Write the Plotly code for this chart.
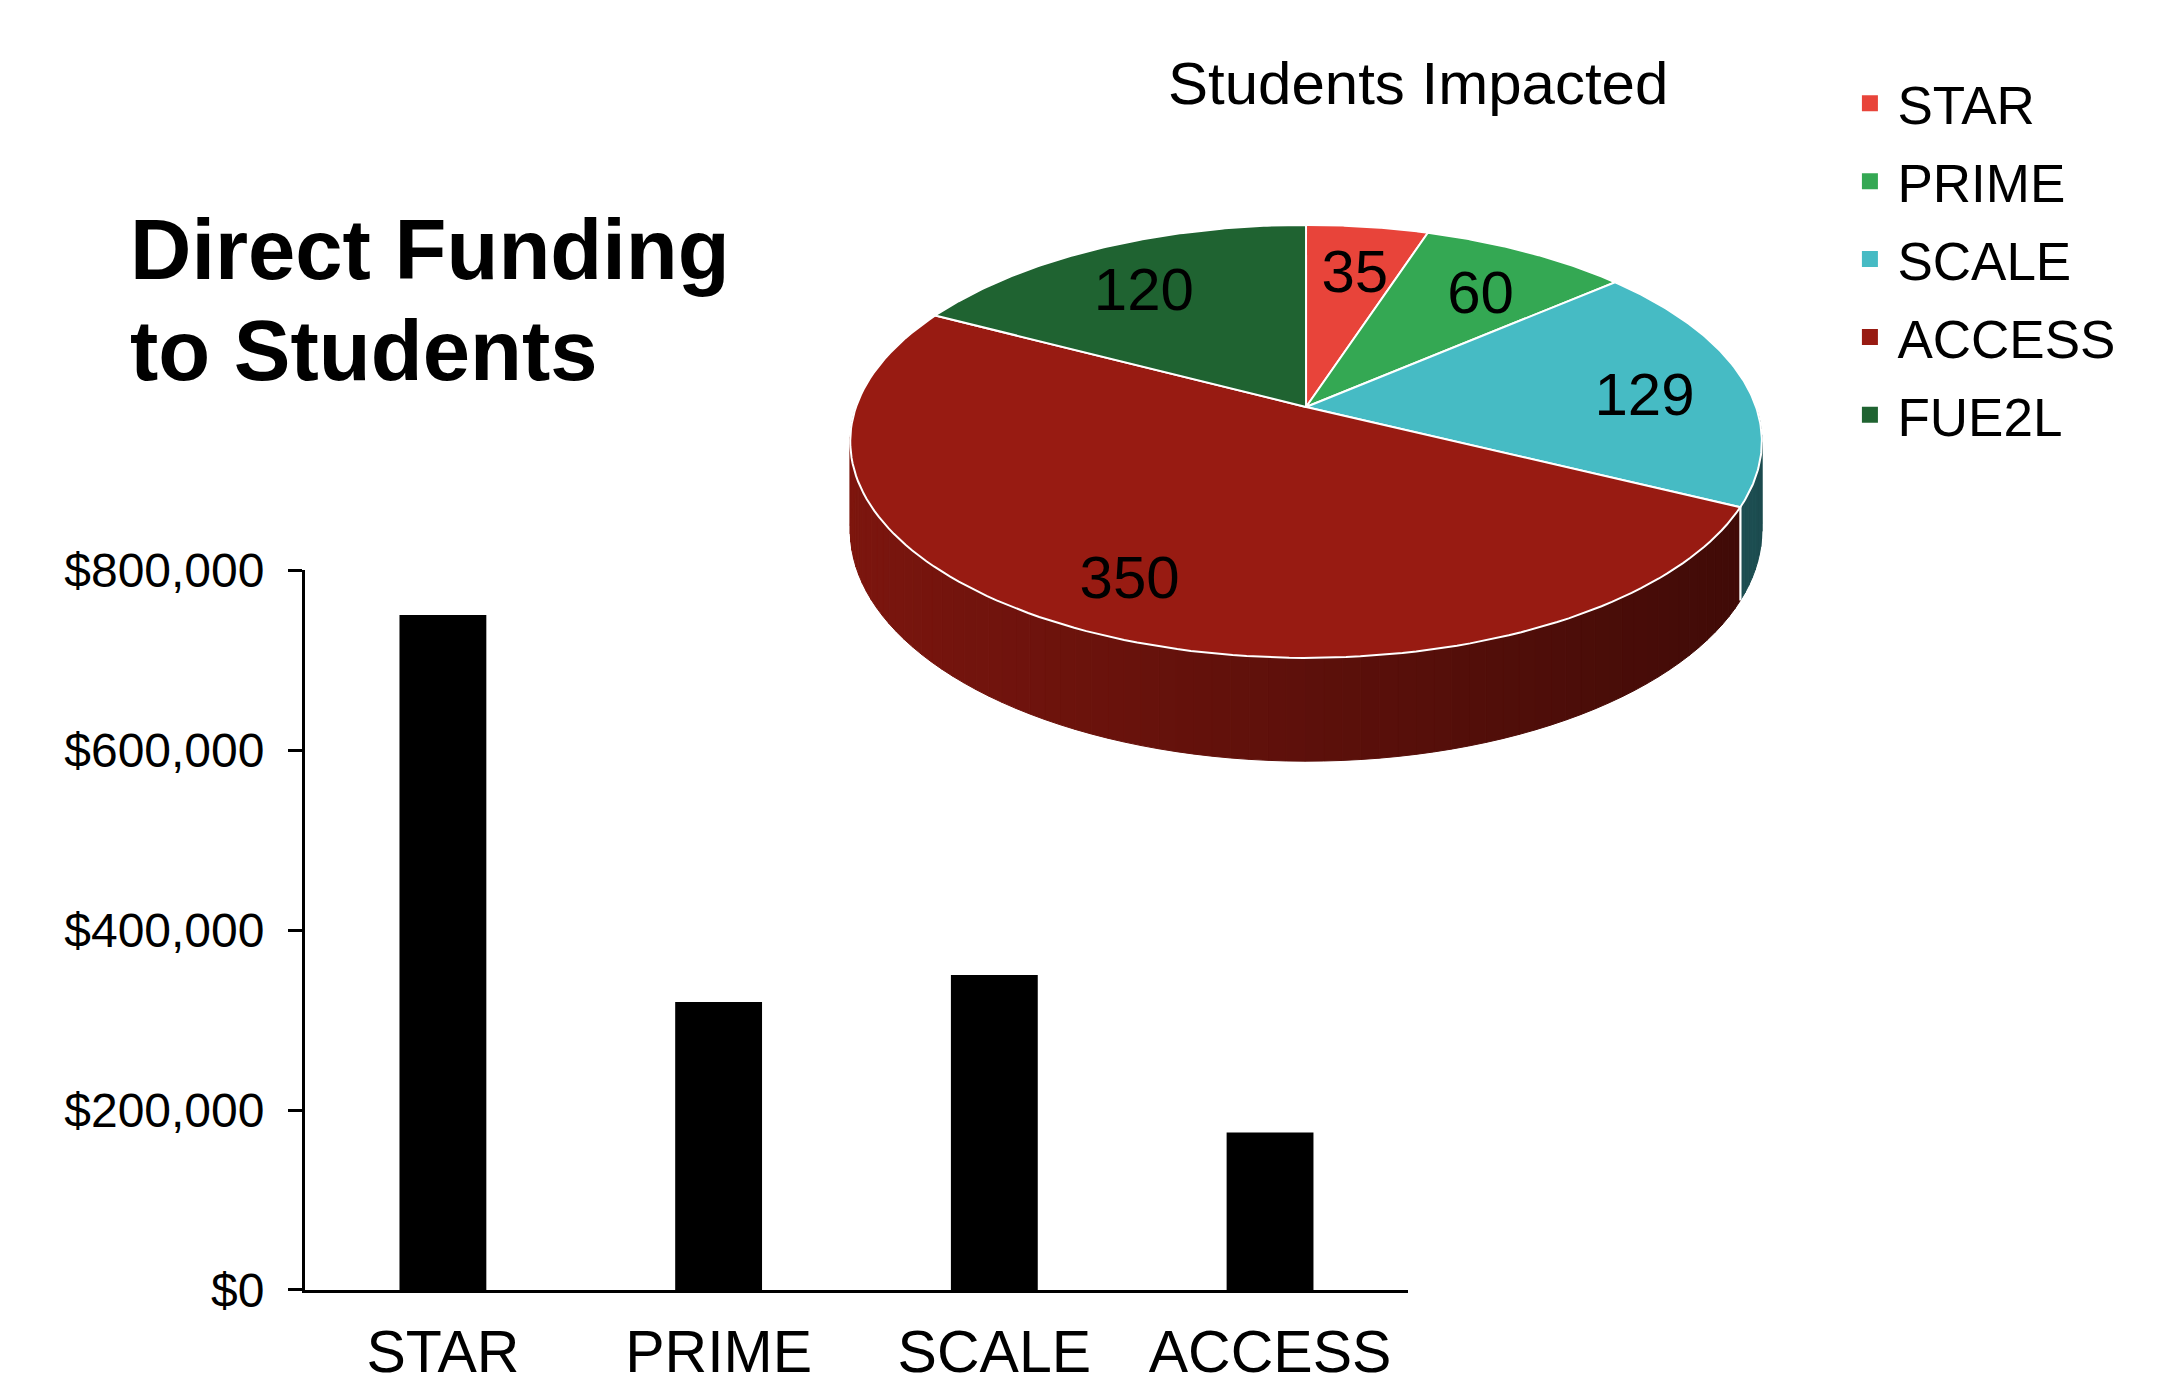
import numpy as np
import plotly.graph_objects as go

# ---------------- data ----------------
bar_categories = ["STAR", "PRIME", "SCALE", "ACCESS"]
bar_values = [750000, 320000, 350000, 175000]
y_tick_values = [0, 200000, 400000, 600000, 800000]

pie_labels = ["STAR", "PRIME", "SCALE", "ACCESS", "FUE2L"]
pie_values = [35, 60, 129, 350, 120]
pie_colors = ["#e8443a", "#34a853", "#46bbc4", "#981b12", "#1f6331"]

title_lines = ["Direct Funding", "to Students"]
pie_title = "Students Impacted"

# ---------------- style / geometry ----------------
FONT = "Liberation Sans, Arial, Helvetica, sans-serif"
RY0 = 0.469     # vertical squash of the tilted pie
K = 0.159       # perspective strength
DEPTH = 0.193   # thickness of the pie
LABEL_F = 0.77
LABEL_DY = -0.03


def hex_rgb(h):
    h = h.lstrip("#")
    return tuple(int(h[i:i + 2], 16) for i in (0, 2, 4))


def proj(t_deg, f=1.0, drop=0.0):
    t = np.radians(t_deg)
    s = 1.0 / (1.0 + K * f * np.cos(t))
    return f * np.sin(t) * s, (RY0 * f * np.cos(t) - drop) * s


fig = go.Figure()

# ---------------- bar chart ----------------
fig.add_trace(go.Bar(
    x=bar_categories, y=bar_values, marker=dict(color="black", line=dict(width=0)),
    showlegend=False, xaxis="x", yaxis="y", hoverinfo="x+y",
))

# ---------------- 3D-looking pie ----------------
total = float(sum(pie_values))
bounds = np.concatenate([[0.0], np.cumsum(pie_values) / total * 360.0])

# side walls (front half: 90..270 degrees)
for i, (lab, col) in enumerate(zip(pie_labels, pie_colors)):
    a0, a1 = max(bounds[i], 90.0), min(bounds[i + 1], 270.0)
    if a1 <= a0:
        continue
    base = hex_rgb(col)
    n = max(1, int(np.ceil((a1 - a0) / 2.0)))
    edges = np.linspace(a0, a1, n + 1)
    for s0, s1 in zip(edges[:-1], edges[1:]):
        ts = np.linspace(s0, s1, 4)
        xt, yt = proj(ts)
        xb, yb = proj(ts[::-1], drop=DEPTH)
        xm = np.sin(np.radians((s0 + s1) / 2))
        fac = 0.83 - 0.43 * (xm + 1) / 2
        c = "rgb(%d,%d,%d)" % tuple(int(v * fac) for v in base)
        fig.add_trace(go.Scatter(
            x=np.concatenate([xt, xb, xt[:1]]), y=np.concatenate([yt, yb, yt[:1]]),
            mode="lines", fill="toself", fillcolor=c, line=dict(color=c, width=1),
            showlegend=False, hoverinfo="skip", xaxis="x2", yaxis="y2",
        ))
    # white separators between side walls
    for a in (bounds[i], bounds[i + 1]):
        if 90.0 < a < 270.0:
            x0, y0 = proj(a)
            x1, y1 = proj(a, drop=DEPTH)
            fig.add_trace(go.Scatter(
                x=[x0, x1], y=[y0, y1], mode="lines", line=dict(color="white", width=2),
                showlegend=False, hoverinfo="skip", xaxis="x2", yaxis="y2",
            ))

# top faces
for i, (lab, col, val) in enumerate(zip(pie_labels, pie_colors, pie_values)):
    ts = np.linspace(bounds[i], bounds[i + 1], 120)
    xt, yt = proj(ts)
    fig.add_trace(go.Scatter(
        x=np.concatenate([[0.0], xt, [0.0]]), y=np.concatenate([[0.0], yt, [0.0]]),
        mode="lines", fill="toself", fillcolor=col, line=dict(color="white", width=2),
        showlegend=False, name=lab, hoverinfo="name", xaxis="x2", yaxis="y2",
    ))

# slice value labels
mids = (bounds[:-1] + bounds[1:]) / 2
lx, ly = proj(mids, f=LABEL_F)
fig.add_trace(go.Scatter(
    x=lx, y=ly + LABEL_DY, mode="text", text=[str(v) for v in pie_values],
    textposition="middle center", textfont=dict(family=FONT, size=60, color="black"),
    showlegend=False, hoverinfo="skip", xaxis="x2", yaxis="y2",
))

# legend entries
for lab, col in zip(pie_labels, pie_colors):
    fig.add_trace(go.Scatter(
        x=[None], y=[None], mode="markers", name=lab, legendgroup=lab,
        marker=dict(symbol="square", size=18, color=col),
        xaxis="x2", yaxis="y2",
    ))

# ---------------- layout ----------------
annotations = [
    dict(text="<b>%s</b>" % title_lines[0], x=0.0591, y=0.8202, xref="paper", yref="paper",
         xanchor="left", yanchor="middle", showarrow=False,
         font=dict(family=FONT, size=85, color="black")),
    dict(text="<b>%s</b>" % title_lines[1], x=0.0591, y=0.7466, xref="paper", yref="paper",
         xanchor="left", yanchor="middle", showarrow=False,
         font=dict(family=FONT, size=85, color="black")),
    dict(text=pie_title, x=0.655, y=0.940, xref="paper", yref="paper",
         xanchor="center", yanchor="middle", showarrow=False,
         font=dict(family=FONT, size=60, color="black")),
]

fig.update_layout(
    width=2165, height=1385,
    margin=dict(l=0, r=0, t=0, b=0, autoexpand=False),
    paper_bgcolor="white", plot_bgcolor="rgba(0,0,0,0)",
    font=dict(family=FONT, color="black"),
    bargap=0.685,
    showlegend=True,
    legend=dict(
        x=0.851, y=0.955, xanchor="left", yanchor="top",
        font=dict(family=FONT, size=53, color="black"),
        traceorder="grouped", tracegroupgap=6, itemwidth=45,
        bgcolor="rgba(0,0,0,0)", itemclick=False, itemdoubleclick=False,
    ),
    xaxis=dict(
        domain=[0.1409, 0.6503], range=[-0.5, 3.5], type="category",
        showline=True, linecolor="black", linewidth=3, ticks="",
        showgrid=False, zeroline=False, fixedrange=True, automargin=False,
        tickfont=dict(family=FONT, size=59, color="black"), ticklabelstandoff=8,
    ),
    yaxis=dict(
        domain=[0.0686, 0.5884], range=[0, 800000], tickvals=y_tick_values,
        tickformat="$,", showline=True, linecolor="black", linewidth=3,
        ticks="outside", ticklen=14, tickwidth=3, tickcolor="black",
        showgrid=False, zeroline=False, fixedrange=True, automargin=False,
        tickfont=dict(family=FONT, size=48, color="black"), ticklabelstandoff=14,
    ),
    xaxis2=dict(domain=[0.385, 0.8215], range=[-1.05, 1.05], visible=False, fixedrange=True,
                anchor="y2", automargin=False),
    yaxis2=dict(domain=[0.430, 0.8686], range=[-0.85, 0.5], visible=False, fixedrange=True,
                anchor="x2", automargin=False),
    annotations=annotations,
)

fig.write_html("out.html")
